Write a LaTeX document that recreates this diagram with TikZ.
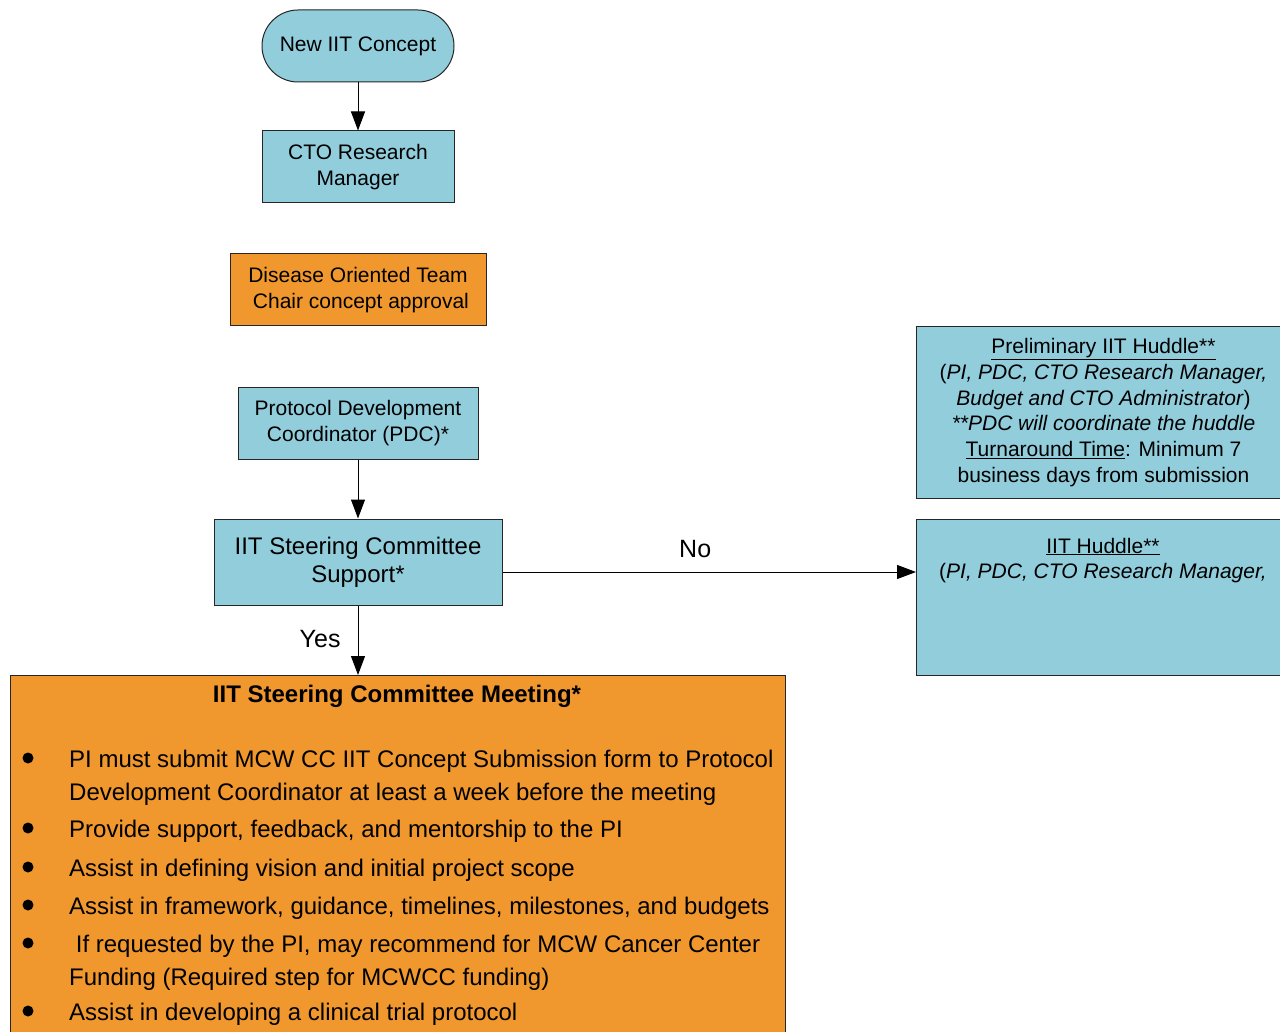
\documentclass[tikz,border=0pt]{standalone}
\usepackage{fontspec}
\setmainfont{Liberation Sans}
\usetikzlibrary{arrows.meta}
\definecolor{boxblue}{RGB}{146,205,220}
\definecolor{boxorange}{RGB}{240,152,46}
\begin{document}
\begin{tikzpicture}[x=1pt,y=-1pt,
  box/.style={draw=black!85, line width=1pt, inner sep=0pt, align=center, font=\fontsize{21}{26}\selectfont},
  bluebox/.style={box, fill=boxblue},
  orangebox/.style={box, fill=boxorange},
  arr/.style={-{Triangle[length=19pt,width=14pt]}, line width=1pt},
  lbl/.style={font=\fontsize{25}{30}\selectfont, inner sep=0pt},
  bul/.style={font=\fontsize{24}{29}\selectfont, anchor=base west, inner sep=0pt},
  dot/.style={circle, fill=black, minimum size=11pt, inner sep=0pt},
  htxt/.style={font=\fontsize{21}{26}\selectfont, anchor=base, inner sep=0pt}]
\useasboundingbox (0,0) rectangle (1280,1032);
\clip (0,0) rectangle (1280,1032);
\fill[white] (0,0) rectangle (1280,1032);

\node[bluebox, rounded corners=36pt, minimum width=192pt, minimum height=72pt] (concept) at (358,46) {New IIT Concept};
\node[bluebox, minimum width=192pt, minimum height=72pt] (cto) at (358,167) {CTO Research\\Manager};
\node[orangebox, minimum width=256pt, minimum height=72pt] (dot) at (358,290) {Disease Oriented Team\\~Chair concept approval};
\node[bluebox, minimum width=240pt, minimum height=72pt] (pdc) at (358,423) {Protocol Development\\Coordinator (PDC)*};
\node[bluebox, minimum width=288pt, minimum height=86pt, font=\fontsize{24}{28}\selectfont] (scs) at (358,562) {IIT Steering Committee\\Support*};

\node[bluebox, minimum width=374pt, minimum height=172pt, anchor=north west, font=\fontsize{21}{25.8}\selectfont] (prelim) at (916,326)
  {\underline{Preliminary IIT Huddle**}\\(\textit{PI, PDC, CTO Research Manager,}\\\textit{Budget and CTO Administrator})\\\textit{**PDC will coordinate the huddle}\\\underline{Turnaround Time}: Minimum 7\\business days from submission};

\node[bluebox, minimum width=374pt, minimum height=156pt, anchor=north west] (huddle) at (916,519) {};
\node[htxt] (h1) at (1103,553) {\underline{IIT Huddle**}};
\node[htxt] (h2) at (1103,578) {(\textit{PI, PDC, CTO Research Manager,}};

\node[orangebox, minimum width=775pt, minimum height=420pt, anchor=north west] (meet) at (10,675) {};
\node[font=\bfseries\fontsize{24}{28}\selectfont, anchor=base, inner sep=0pt] (mtitle) at (397,702) {IIT Steering Committee Meeting*};

\node[dot] (d1) at (28,758) {};
\node[bul] (t1) at (69,767) {PI must submit MCW CC IIT Concept Submission form to Protocol};
\node[bul] (t1b) at (69,800) {Development Coordinator at least a week before the meeting};
\node[dot] (d2) at (28,828) {};
\node[bul] (t2) at (69,837) {Provide support, feedback, and mentorship to the PI};
\node[dot] (d3) at (28,867) {};
\node[bul] (t3) at (69,876) {Assist in defining vision and initial project scope};
\node[dot] (d4) at (28,905) {};
\node[bul] (t4) at (69,914) {Assist in framework, guidance, timelines, milestones, and budgets};
\node[dot] (d5) at (28,943) {};
\node[bul] (t5) at (69,952) {\ If requested by the PI, may recommend for MCW Cancer Center};
\node[bul] (t5b) at (69,985) {Funding (Required step for MCWCC funding)};
\node[dot] (d6) at (28,1011) {};
\node[bul] (t6) at (69,1020) {Assist in developing a clinical trial protocol};

\draw[arr] (concept) -- (cto);
\draw[arr] (pdc) -- (scs);
\draw[arr] (scs.south) -- node[lbl, anchor=base east, xshift=-17pt, yshift=-7pt] {Yes} (scs.south |- meet.north);
\draw[arr] ([yshift=-10pt]scs.east) -- node[lbl, pos=0.466, anchor=base, yshift=15pt] {No} ([yshift=-10pt]scs.east -| huddle.west);
\end{tikzpicture}
\end{document}
